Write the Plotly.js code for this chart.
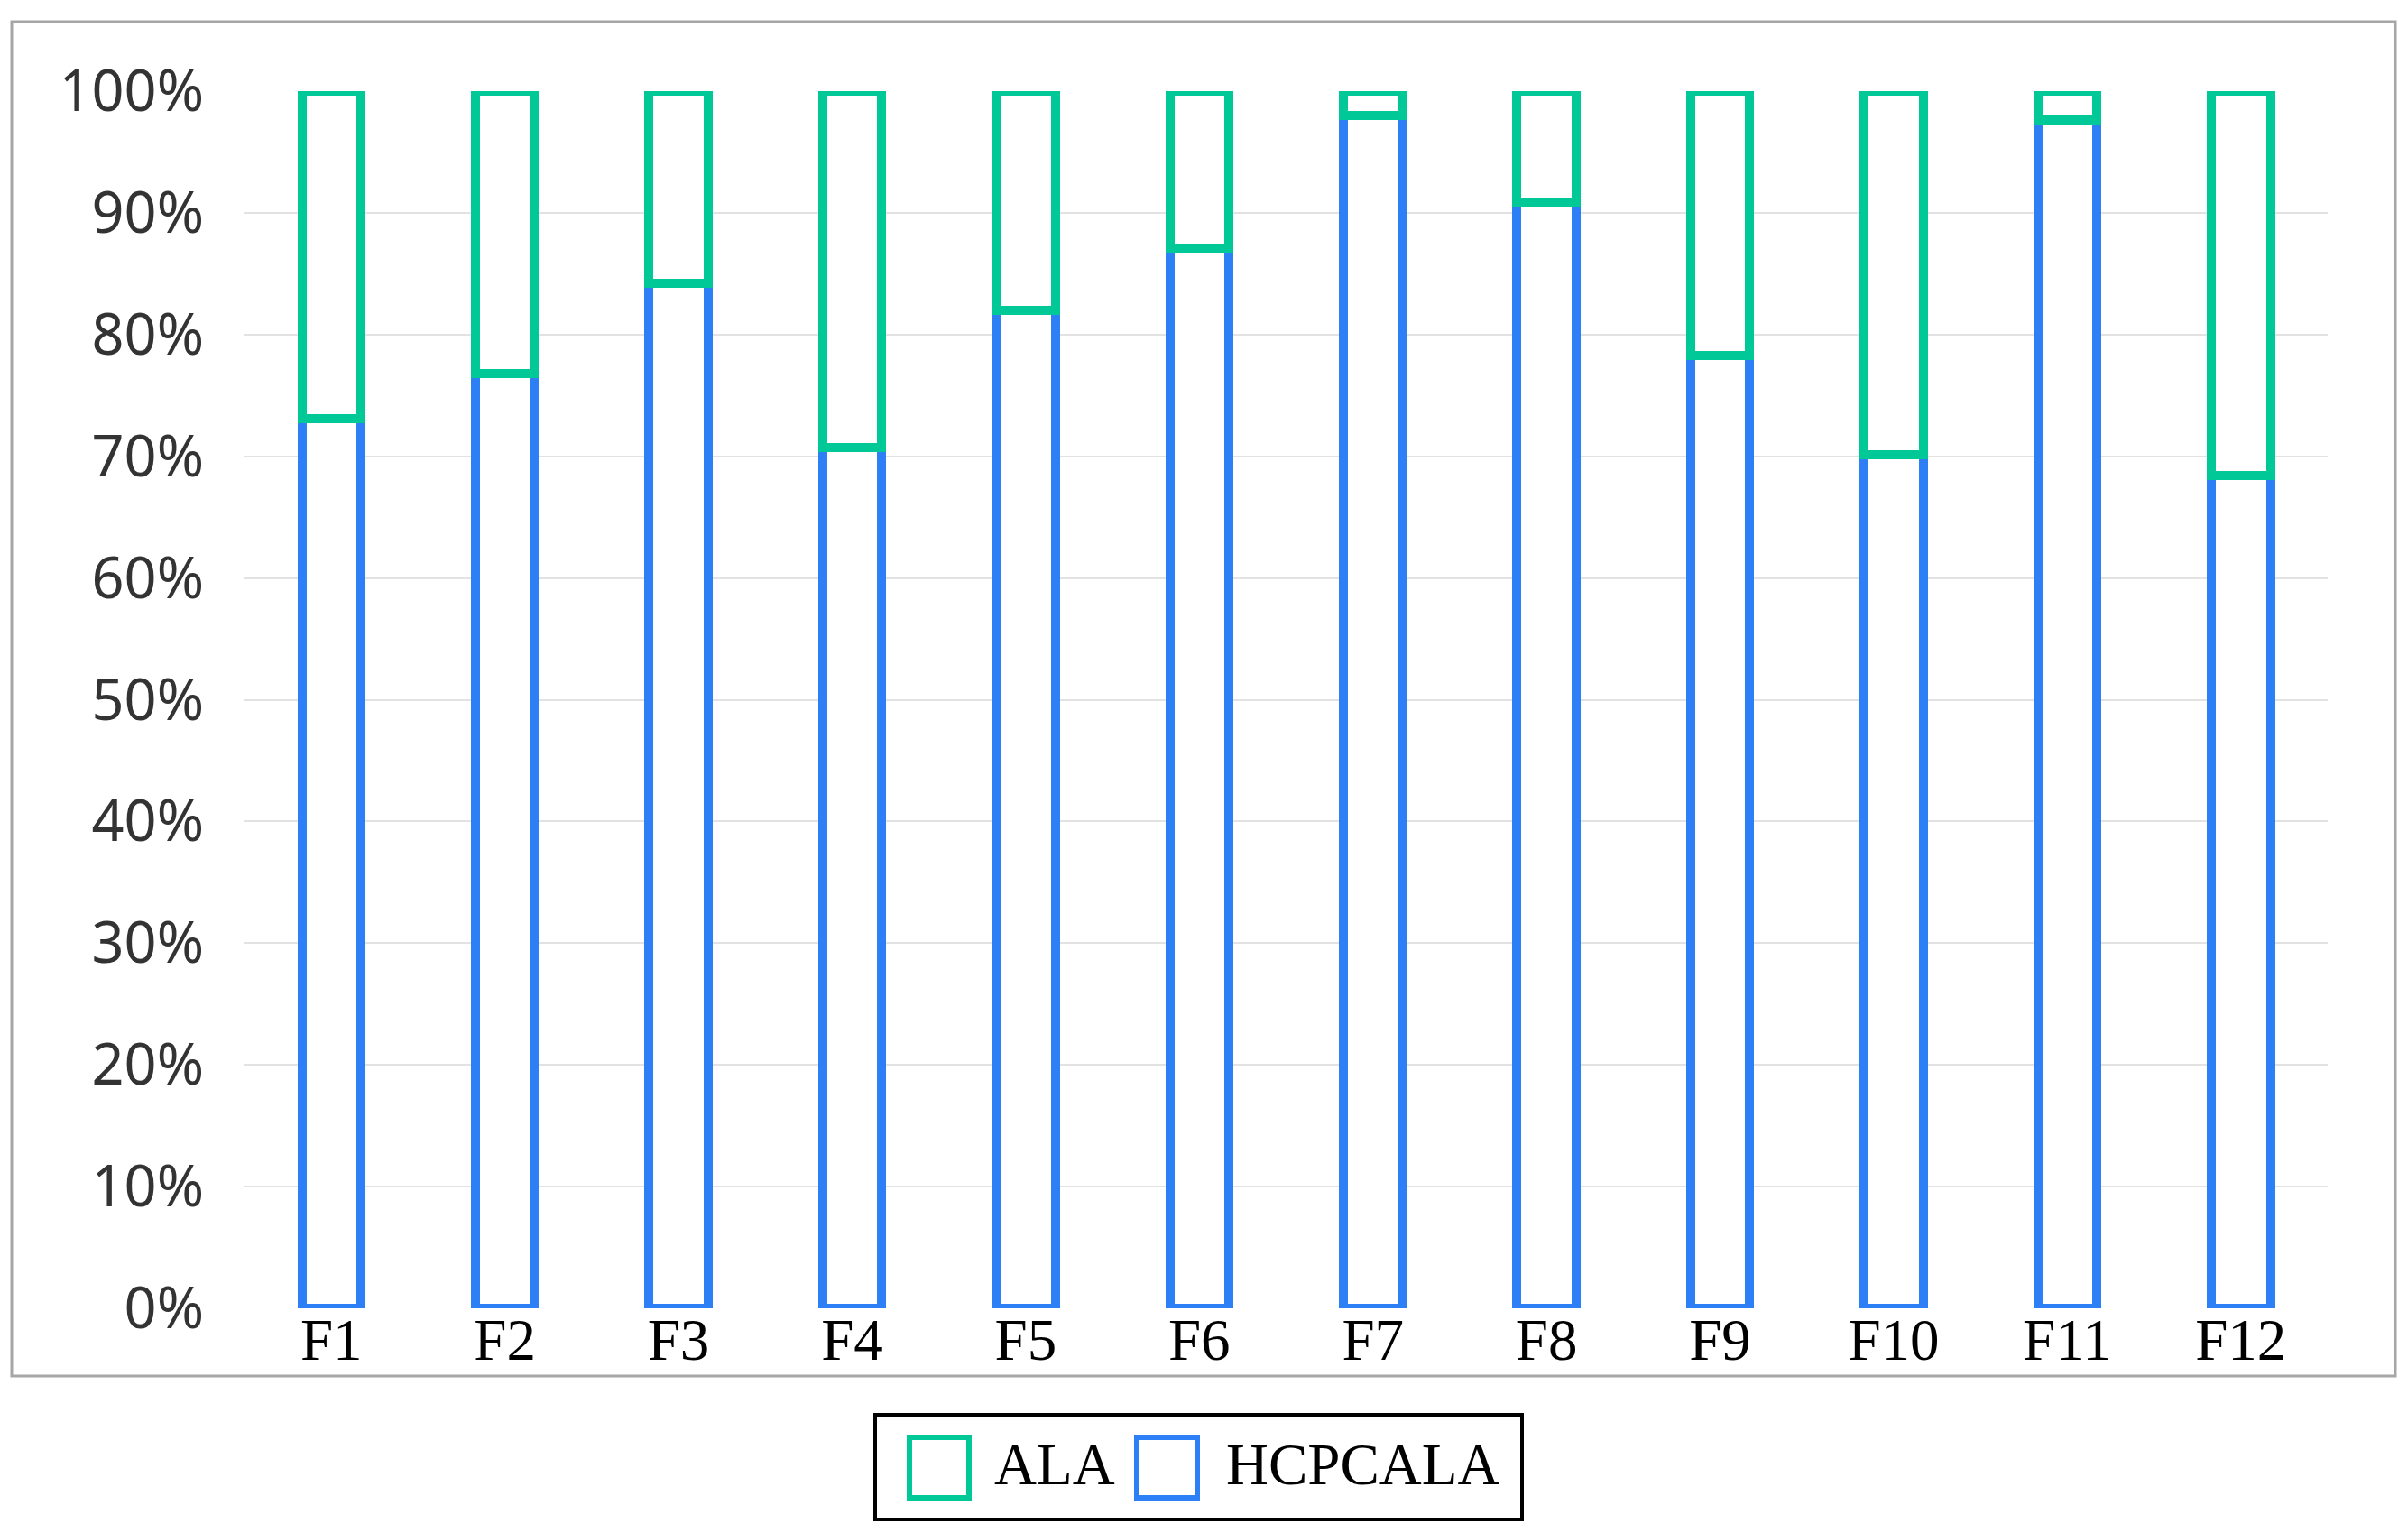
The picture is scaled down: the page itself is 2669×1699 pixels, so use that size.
<!DOCTYPE html>
<html>
<head>
<meta charset="utf-8">
<script src="https://cdn.plot.ly/plotly-3.0.1.min.js"></script>
<style>html,body{margin:0;padding:0;background:#fff;}#chart{width:2669px;height:1699px;}</style>
</head>
<body>
<div id="chart"></div>
<script>
// ---- data ----
const categories = ["F1","F2","F3","F4","F5","F6","F7","F8","F9","F10","F11","F12"];
const hcpcalaValues = [73.1, 76.8, 84.2, 70.7, 82.0, 87.1, 98.0, 90.9, 78.3, 70.1, 97.6, 68.4];
const alaValues = [26.9, 23.2, 15.8, 29.3, 18.0, 12.9, 2.0, 9.1, 21.7, 29.9, 2.4, 31.6];
const seriesNames = ["ALA", "HCPCALA"];
const yTickValues = [0,10,20,30,40,50,60,70,80,90,100];

// ---- style ----
const W = 2669, H = 1699;
const M = {l: 271, r: 89, t: 101, b: 249};
const GREEN = "#00c896", BLUE = "#2d7ff5";
const PW = W - M.l - M.r, PH = H - M.t - M.b;
const px = x => (x - M.l) / PW;        // pixel -> paper x
const py = y => (H - M.b - y) / PH;    // pixel -> paper y

const traces = [
  {type: "bar", name: seriesNames[1], x: categories, y: hcpcalaValues, width: 0.34,
   marker: {color: "#ffffff", line: {color: BLUE, width: 10}}, showlegend: false, hoverinfo: "x+y"},
  {type: "bar", name: seriesNames[0], x: categories, y: alaValues, width: 0.34,
   marker: {color: "#ffffff", line: {color: GREEN, width: 10}}, showlegend: false, hoverinfo: "x+y"}
];

const shapes = [
  // outer frame
  {type: "rect", xref: "paper", yref: "paper", x0: px(13), x1: px(2655), y0: py(1525), y1: py(24),
   line: {color: "#a6a6a6", width: 3}, fillcolor: "rgba(0,0,0,0)", layer: "below"},
  // legend box
  {type: "rect", xref: "paper", yref: "paper", x0: px(970), x1: px(1687), y0: py(1684), y1: py(1568),
   line: {color: "#000000", width: 4}, fillcolor: "#ffffff"},
  // legend symbols
  {type: "rect", xref: "paper", yref: "paper", x0: px(1008), x1: px(1074), y0: py(1660), y1: py(1593),
   line: {color: GREEN, width: 6}, fillcolor: "#ffffff"},
  {type: "rect", xref: "paper", yref: "paper", x0: px(1260), x1: px(1327), y0: py(1660), y1: py(1593),
   line: {color: BLUE, width: 6}, fillcolor: "#ffffff"}
];

const annotations = [
  {xref: "paper", yref: "paper", x: px(1100), y: py(1623), xanchor: "left", yanchor: "middle",
   text: seriesNames[0], showarrow: false, font: {family: "Liberation Serif, Times New Roman, serif", size: 65, color: "#000"}},
  {xref: "paper", yref: "paper", x: px(1357), y: py(1623), xanchor: "left", yanchor: "middle",
   text: seriesNames[1], showarrow: false, font: {family: "Liberation Serif, Times New Roman, serif", size: 65, color: "#000"}}
];

const layout = {
  width: W, height: H,
  margin: M,
  paper_bgcolor: "#ffffff", plot_bgcolor: "#ffffff",
  barmode: "stack",
  showlegend: false,
  xaxis: {
    type: "category", showgrid: false, zeroline: false, showline: false, ticks: "",
    tickfont: {family: "Liberation Serif, Times New Roman, serif", size: 65, color: "#000"},
    ticklabelstandoff: -9
  },
  yaxis: {
    range: [0, 100], tickvals: yTickValues, ticktext: yTickValues.map(v => v + "%"),
    showgrid: true, gridcolor: "#e2e2e2", gridwidth: 2, zeroline: false, showline: false, ticks: "",
    tickfont: {family: "Noto Sans, sans-serif", size: 63, color: "#333333"},
    ticklabelstandoff: 44
  },
  shapes: shapes,
  annotations: annotations
};

Plotly.newPlot("chart", traces, layout, {displayModeBar: false, staticPlot: true});
</script>
</body>
</html>
